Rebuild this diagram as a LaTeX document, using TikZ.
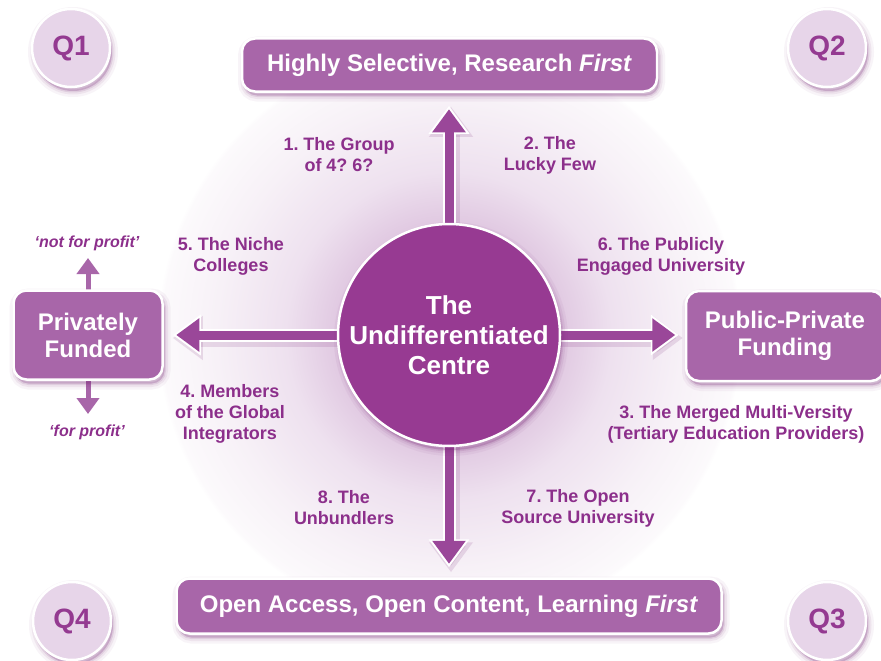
\documentclass[tikz,border=0pt]{standalone}
\usepackage{fontspec}
\setmainfont{Liberation Sans}
\frenchspacing
\usetikzlibrary{arrows.meta,shadows}
\definecolor{boxc}{HTML}{A866A9}
\definecolor{circc}{HTML}{973A92}
\definecolor{arrc}{HTML}{9A4799}
\definecolor{labc}{HTML}{8C2F8B}
\definecolor{qfill}{HTML}{E7D5E9}
\definecolor{qtext}{HTML}{943A91}
\definecolor{shc}{HTML}{7A2A78}
\definecolor{glowA}{HTML}{E0C8E1}
\definecolor{glowB}{HTML}{EEE1EF}
\definecolor{glowC}{HTML}{F7F1F7}
\definecolor{glowD}{HTML}{FCFAFC}
\pgfdeclarelayer{bg}
\pgfdeclarelayer{arr}
\pgfsetlayers{bg,arr,main}
\pgfdeclareradialshading{bgglow}{\pgfpointorigin}{color(0bp)=(glowA); color(9.5bp)=(glowA); color(14bp)=(glowB); color(20bp)=(glowC); color(24.6bp)=(glowD); color(25bp)=(white); color(50bp)=(white)}
\tikzset{
  softsh/.style={
    general shadow={fill=shc, draw=shc, line width=12pt, opacity=0.05, shadow xshift=2pt, shadow yshift=-4pt},
    general shadow={fill=shc, draw=shc, line width=7pt, opacity=0.08, shadow xshift=2pt, shadow yshift=-4pt},
    general shadow={fill=shc, draw=shc, line width=3pt, opacity=0.12, shadow xshift=2pt, shadow yshift=-4pt}},
  boxstyle/.style={rectangle, rounded corners=13pt, fill=boxc, draw=white, line width=2.5pt,
    text=white, font=\frenchspacing\bfseries\fontsize{24}{27}\selectfont, align=center, inner sep=0pt, softsh},
  qstyle/.style={circle, minimum size=78pt, fill=qfill, draw=white, line width=2.5pt,
    text=qtext, font=\bfseries\fontsize{28}{30}\selectfont, inner sep=0pt, softsh},
  centrestyle/.style={circle, minimum size=222pt, fill=circc, draw=white, line width=2.5pt,
    text=white, font=\bfseries\fontsize{26}{30}\selectfont, align=center, inner sep=0pt, softsh},
  labstyle/.style={text=labc, font=\frenchspacing\bfseries\fontsize{18}{21}\selectfont, align=center, inner sep=0pt},
  profstyle/.style={text=labc, font=\bfseries\itshape\fontsize{16}{19}\selectfont, inner sep=0pt},
  arrsh/.style={draw=shc, opacity=0.14, line width=17pt, -{Triangle[width=42pt,length=30pt]},
    transform canvas={xshift=2pt, yshift=-3pt}},
  arrout/.style={draw=white, line width=13pt, -{Triangle[width=39pt,length=28pt]}},
  arrin/.style={draw=arrc, line width=9pt, -{Triangle[width=32pt,length=23pt]}},
  smallout/.style={draw=white, line width=8pt, -{Triangle[width=27pt,length=20pt]}},
  smallin/.style={draw=boxc, line width=5pt, -{Triangle[width=22pt,length=16pt]}},
}
\begin{document}
\begin{tikzpicture}[x=1pt,y=-1pt]
\useasboundingbox (0,0) rectangle (881,661);
\begin{pgfonlayer}{bg}
  \fill[white] (0,0) rectangle (881,661);
  \shade[shading=bgglow] (449,335) circle[radius=292];
\end{pgfonlayer}

% main nodes
\node[centrestyle] (C) at (449,335) {The\\Undifferentiated\\Centre};
\node[boxstyle, minimum width=415pt, minimum height=53pt] (T) at (449.5,65) {Highly Selective, Research \textit{First}};
\node[boxstyle, minimum width=545pt, minimum height=55pt] (B) at (449,606) {Open Access, Open Content, Learning \textit{First}};
\node[boxstyle, minimum width=149pt, minimum height=89pt] (L) at (88,335) {Privately\\Funded};
\node[boxstyle, minimum width=198pt, minimum height=90pt] (R) at (785,336) {Public-Private\\Funding};

% quadrant circles
\node[qstyle] (Q1) at (71,48) {Q1};
\node[qstyle] (Q2) at (827,48) {Q2};
\node[qstyle] (Q3) at (827,621) {Q3};
\node[qstyle] (Q4) at (72,621) {Q4};

% labels
\node[labstyle] (l1) at (339,155) {1. The Group\\of 4? 6?};
\node[labstyle] (l2) at (550,155) {2. The\\Lucky Few};
\node[labstyle] (l5) at (231,256) {5. The Niche\\Colleges};
\node[labstyle] (l6) at (661,256) {6. The Publicly\\Engaged University};
\node[labstyle] (l4) at (230,414) {4. Members\\of the Global\\Integrators};
\node[labstyle] (l3) at (736,424) {3. The Merged Multi-Versity\\(Tertiary Education Providers)};
\node[labstyle] (l8) at (344,508) {8. The\\Unbundlers};
\node[labstyle] (l7) at (578,508) {7. The Open\\Source University};
\node[profstyle] (np) at (87,243) {‘not for profit’};
\node[profstyle] (fp) at (87,432) {‘for profit’};

\coordinate (uptip) at (88,255);
\coordinate (dntip) at (88,417);

% arrows
\begin{pgfonlayer}{arr}
  \draw[arrsh, shorten >=11pt] (C.center) -- (C.center |- T.south);
  \draw[arrsh, shorten >=8pt] (C.center) -- (C.center |- B.north);
  \draw[arrsh, shorten >=7pt] (C.center) -- (C.center -| L.east);
  \draw[arrsh, shorten >=4pt] (C.center) -- (C.center -| R.west);

  \draw[arrout, shorten >=13pt] (C.center) -- (C.center |- T.south);
  \draw[arrin, shorten >=16.5pt] (C.center) -- (C.center |- T.south);
  \draw[arrout, shorten >=10pt] (C.center) -- (C.center |- B.north);
  \draw[arrin, shorten >=13.5pt] (C.center) -- (C.center |- B.north);
  \draw[arrout, shorten >=9pt] (C.center) -- (C.center -| L.east);
  \draw[arrin, shorten >=12.5pt] (C.center) -- (C.center -| L.east);
  \draw[arrout, shorten >=6pt] (C.center) -- (C.center -| R.west);
  \draw[arrin, shorten >=9.5pt] (C.center) -- (C.center -| R.west);

  \draw[smallout] (L.center) -- (uptip);
  \draw[smallin, shorten >=3pt] (L.center) -- (uptip);
  \draw[smallout] (L.center) -- (dntip);
  \draw[smallin, shorten >=3pt] (L.center) -- (dntip);
\end{pgfonlayer}
\end{tikzpicture}
\end{document}
